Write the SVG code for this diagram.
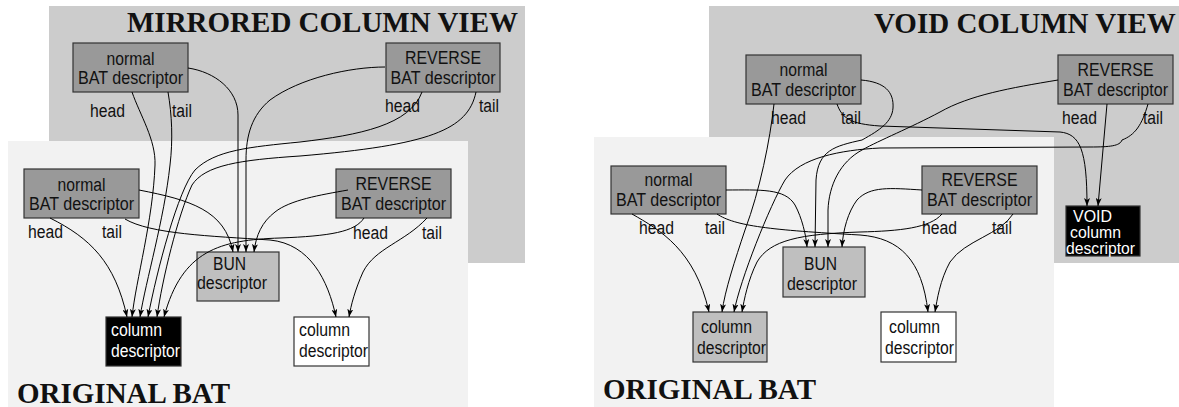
<svg xmlns="http://www.w3.org/2000/svg" width="1179" height="407" viewBox="0 0 1179 407">
<style>
.t{font-family:"Liberation Sans",Arial,sans-serif;font-size:18px;fill:#111}
.s{font-size:16px}
.w{fill:#fff}
.title{font-family:"Liberation Serif","Times New Roman",serif;font-weight:bold;font-size:29px;fill:#111}
.box{stroke:#333;stroke-width:1.2}
.d{fill:#999}
.b{fill:#bfbfbf}
.k{fill:#000}
.wh{fill:#fff}
.c{fill:none;stroke:#000;stroke-width:1}
</style>
<defs>
<marker id="ah" markerWidth="9" markerHeight="6" refX="8" refY="3" orient="auto" markerUnits="userSpaceOnUse">
<path d="M0,0 L8,3 L0,6 L2,3 z" fill="#000"/>
</marker>
</defs>
<!-- backgrounds -->
<rect x="49" y="6" width="476" height="257" fill="#ccc"/>
<rect x="8" y="141" width="460" height="266" fill="#f2f2f2"/>
<rect x="709" y="6" width="470" height="257" fill="#ccc"/>
<rect x="594" y="137" width="460" height="270" fill="#f2f2f2"/>
<text class="title" x="127" y="32">MIRRORED COLUMN VIEW</text>
<text class="title" x="17" y="403">ORIGINAL BAT</text>
<text class="title" x="874" y="33">VOID COLUMN VIEW</text>
<text class="title" x="603" y="399">ORIGINAL BAT</text>

<!-- LEFT PANEL nodes -->
<g id="L_un">
<rect class="box d" x="73" y="43" width="115" height="49"/>
<text class="t" x="130.5" y="65" text-anchor="middle" textLength="48" lengthAdjust="spacingAndGlyphs">normal</text>
<text class="t" x="130.5" y="84" text-anchor="middle" textLength="105" lengthAdjust="spacingAndGlyphs">BAT descriptor</text>
<text class="t" x="90" y="117" textLength="35" lengthAdjust="spacingAndGlyphs">head</text>
<text class="t" x="172" y="117" textLength="20" lengthAdjust="spacingAndGlyphs">tail</text>
</g>
<g id="L_ur">
<rect class="box d" x="386" y="43" width="114" height="49"/>
<text class="t" x="443" y="64" text-anchor="middle" textLength="76" lengthAdjust="spacingAndGlyphs">REVERSE</text>
<text class="t" x="443" y="84" text-anchor="middle" textLength="105" lengthAdjust="spacingAndGlyphs">BAT descriptor</text>
<text class="t" x="385" y="112" textLength="35" lengthAdjust="spacingAndGlyphs">head</text>
<text class="t" x="479" y="112" textLength="20" lengthAdjust="spacingAndGlyphs">tail</text>
</g>
<g id="L_ln">
<rect class="box d" x="24" y="169" width="115" height="49"/>
<text class="t" x="81.5" y="191" text-anchor="middle" textLength="48" lengthAdjust="spacingAndGlyphs">normal</text>
<text class="t" x="81.5" y="210" text-anchor="middle" textLength="105" lengthAdjust="spacingAndGlyphs">BAT descriptor</text>
<text class="t" x="28" y="238" textLength="35" lengthAdjust="spacingAndGlyphs">head</text>
<text class="t" x="102" y="238" textLength="20" lengthAdjust="spacingAndGlyphs">tail</text>
</g>
<g id="L_lr">
<rect class="box d" x="336" y="169" width="115" height="49"/>
<text class="t" x="393.5" y="190" text-anchor="middle" textLength="76" lengthAdjust="spacingAndGlyphs">REVERSE</text>
<text class="t" x="393.5" y="210" text-anchor="middle" textLength="105" lengthAdjust="spacingAndGlyphs">BAT descriptor</text>
<text class="t" x="353" y="239" textLength="35" lengthAdjust="spacingAndGlyphs">head</text>
<text class="t" x="422" y="239" textLength="20" lengthAdjust="spacingAndGlyphs">tail</text>
</g>
<g id="L_bun">
<rect class="box b" x="197" y="252" width="82" height="49"/>
<text class="t" x="213" y="270" textLength="33" lengthAdjust="spacingAndGlyphs">BUN</text>
<text class="t" x="197" y="289" textLength="70" lengthAdjust="spacingAndGlyphs">descriptor</text>
</g>
<g id="L_col1">
<rect class="box k" x="106" y="317" width="75" height="49"/>
<text class="t w" x="111" y="336" textLength="51" lengthAdjust="spacingAndGlyphs">column</text>
<text class="t w" x="111" y="357" textLength="69" lengthAdjust="spacingAndGlyphs">descriptor</text>
</g>
<g id="L_col2">
<rect class="box wh" x="294" y="317" width="75" height="49"/>
<text class="t" x="299" y="336" textLength="51" lengthAdjust="spacingAndGlyphs">column</text>
<text class="t" x="299" y="357" textLength="69" lengthAdjust="spacingAndGlyphs">descriptor</text>
</g>

<!-- RIGHT PANEL nodes -->
<g id="R_un">
<rect class="box d" x="746" y="55" width="115" height="49"/>
<text class="t" x="803.5" y="76" text-anchor="middle" textLength="48" lengthAdjust="spacingAndGlyphs">normal</text>
<text class="t" x="803.5" y="96" text-anchor="middle" textLength="105" lengthAdjust="spacingAndGlyphs">BAT descriptor</text>
<text class="t" x="771" y="124" textLength="35" lengthAdjust="spacingAndGlyphs">head</text>
<text class="t" x="841" y="124" textLength="20" lengthAdjust="spacingAndGlyphs">tail</text>
</g>
<g id="R_ur">
<rect class="box d" x="1058" y="55" width="115" height="49"/>
<text class="t" x="1115.5" y="76" text-anchor="middle" textLength="76" lengthAdjust="spacingAndGlyphs">REVERSE</text>
<text class="t" x="1115.5" y="96" text-anchor="middle" textLength="105" lengthAdjust="spacingAndGlyphs">BAT descriptor</text>
<text class="t" x="1062" y="124" textLength="35" lengthAdjust="spacingAndGlyphs">head</text>
<text class="t" x="1143" y="124" textLength="20" lengthAdjust="spacingAndGlyphs">tail</text>
</g>
<g id="R_ln">
<rect class="box d" x="611" y="166" width="115" height="48"/>
<text class="t" x="668.5" y="186" text-anchor="middle" textLength="48" lengthAdjust="spacingAndGlyphs">normal</text>
<text class="t" x="668.5" y="206" text-anchor="middle" textLength="105" lengthAdjust="spacingAndGlyphs">BAT descriptor</text>
<text class="t" x="639" y="234" textLength="35" lengthAdjust="spacingAndGlyphs">head</text>
<text class="t" x="705" y="234" textLength="20" lengthAdjust="spacingAndGlyphs">tail</text>
</g>
<g id="R_lr">
<rect class="box d" x="922" y="166" width="115" height="48"/>
<text class="t" x="979.5" y="186" text-anchor="middle" textLength="76" lengthAdjust="spacingAndGlyphs">REVERSE</text>
<text class="t" x="979.5" y="206" text-anchor="middle" textLength="105" lengthAdjust="spacingAndGlyphs">BAT descriptor</text>
<text class="t" x="922" y="234" textLength="35" lengthAdjust="spacingAndGlyphs">head</text>
<text class="t" x="992" y="234" textLength="20" lengthAdjust="spacingAndGlyphs">tail</text>
</g>
<g id="R_bun">
<rect class="box b" x="783" y="247" width="82" height="50"/>
<text class="t" x="804" y="270" textLength="33" lengthAdjust="spacingAndGlyphs">BUN</text>
<text class="t" x="787" y="290" textLength="70" lengthAdjust="spacingAndGlyphs">descriptor</text>
</g>
<g id="R_col1">
<rect class="box b" x="693" y="312" width="74" height="50"/>
<text class="t" x="701" y="333" textLength="51" lengthAdjust="spacingAndGlyphs">column</text>
<text class="t" x="697" y="354" textLength="69" lengthAdjust="spacingAndGlyphs">descriptor</text>
</g>
<g id="R_col2">
<rect class="box wh" x="881" y="312" width="75" height="50"/>
<text class="t" x="889" y="333" textLength="51" lengthAdjust="spacingAndGlyphs">column</text>
<text class="t" x="885" y="354" textLength="69" lengthAdjust="spacingAndGlyphs">descriptor</text>
</g>
<g id="R_void">
<rect class="box k" x="1066" y="206" width="74" height="50"/>
<text class="t s w" x="1073" y="222" textLength="39" lengthAdjust="spacingAndGlyphs">VOID</text>
<text class="t s w" x="1070" y="238" textLength="51" lengthAdjust="spacingAndGlyphs">column</text>
<text class="t s w" x="1066" y="254" textLength="69" lengthAdjust="spacingAndGlyphs">descriptor</text>
</g>

<!-- connectors -->
<g id="connectors" class="c" fill="none" stroke="#000" marker-end="url(#ah)">
<!-- left panel -->
<path d="M50,218 C90,238 115,262 127,317"/>
<path d="M132,92 C140,115 156,140 155,165 C153,220 136,280 132,317"/>
<path d="M168,92 C172,115 173,140 170,165 C164,220 146,280 140,317"/>
<path d="M422,92 C410,125 360,135 300,142 C250,147 215,150 195,170 C178,190 157,270 148,317"/>
<path d="M476,92 C468,130 430,145 300,156 C240,160 205,165 192,185 C178,215 162,280 157,317"/>
<path d="M364,218 C355,232 330,236 280,238 C220,240 182,250 164,317"/>
<path d="M125,219 C150,234 210,236 270,240 C310,244 328,280 336,317"/>
<path d="M427,218 C405,242 375,248 363,272 C355,290 351,305 349,317"/>
<path d="M139,190 C190,200 225,210 233,252"/>
<path d="M188,68 C215,72 238,90 238,115 L238,252"/>
<path d="M385,67 C350,67 300,78 270,100 C252,115 246,135 246,160 L246,252"/>
<path d="M348,190 C320,195 290,200 275,212 C262,222 256,235 254,252"/>
<!-- right panel -->
<path d="M632,214 C660,230 695,250 709,312"/>
<path d="M774,104 C770,140 760,190 745,230 C735,260 725,290 722,312"/>
<path d="M1148,104 C1142,125 1135,135 1122,140 C1120,146 1110,147 1090,147 L880,148 C840,150 800,158 785,180 C770,205 740,280 734,312"/>
<path d="M942,214 C930,228 900,231 860,232 C800,234 770,240 757,262 C748,280 744,300 742,312"/>
<path d="M717,214 C735,226 770,230 860,235 C900,238 922,260 928,312"/>
<path d="M1013,214 C1000,235 965,240 950,262 C940,280 937,300 935,312"/>
<path d="M726,190 C760,190 785,188 795,205 C802,218 806,235 807,247"/>
<path d="M861,80 C885,82 894,92 893,108 C892,122 880,130 862,140 C835,146 818,150 816,180 L815,247"/>
<path d="M1058,80 C1010,88 970,95 940,112 C910,128 880,140 862,150 C840,162 829,185 828,210 L828,247"/>
<path d="M922,190 C890,188 870,186 857,200 C848,212 843,230 842,247"/>
<path d="M837,104 C842,118 850,124 880,126 L1060,132 C1080,134 1087,150 1087,206"/>
<path d="M1107,104 L1098,206"/>
</g>
</svg>
